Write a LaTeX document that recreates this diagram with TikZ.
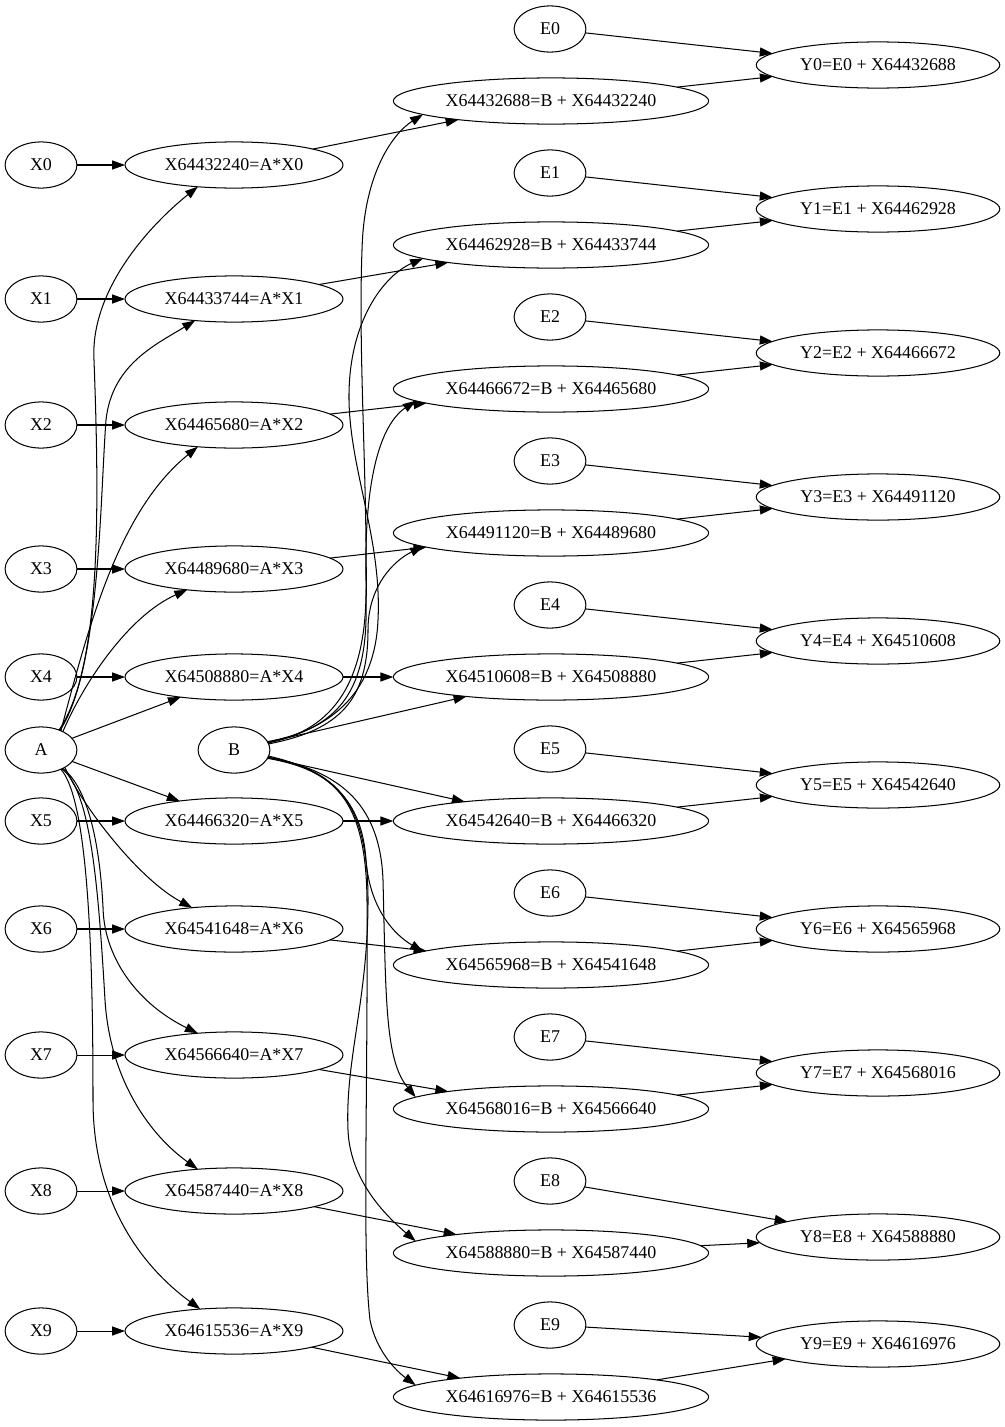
\documentclass[tikz,border=0pt]{standalone}
\usepackage{fontspec}
\setmainfont{Liberation Serif}
\usetikzlibrary{arrows.meta,shapes.geometric}

\begin{document}
\begin{tikzpicture}[x=0.78pt, y=-0.78pt, >={Triangle[length=10pt,width=7pt]}, line width=0.8pt,
  nd/.style={ellipse, draw, inner sep=0pt, outer sep=0pt, minimum height=36pt, font=\fontsize{14}{16}\selectfont},
  sm/.style={nd, minimum width=56pt}, ml/.style={nd, minimum width=170pt},
  ad/.style={nd, minimum width=246pt}, rs/.style={nd, minimum width=190pt}]
\fill[white] (0,0) rectangle (1005,1427);
\node[sm] (x0) at (41,165) {X0}; \node[ml] (m0) at (234,165) {X64432240=A*X0};
\node[sm] (x1) at (41,299) {X1}; \node[ml] (m1) at (234,299) {X64433744=A*X1};
\node[sm] (x2) at (41,425) {X2}; \node[ml] (m2) at (234,425) {X64465680=A*X2};
\node[sm] (x3) at (41,569) {X3}; \node[ml] (m3) at (234,569) {X64489680=A*X3};
\node[sm] (x4) at (41,677) {X4}; \node[ml] (m4) at (234,677) {X64508880=A*X4};
\node[sm] (x5) at (41,821) {X5}; \node[ml] (m5) at (234,821) {X64466320=A*X5};
\node[sm] (x6) at (41,929) {X6}; \node[ml] (m6) at (234,929) {X64541648=A*X6};
\node[sm] (x7) at (41,1055) {X7}; \node[ml] (m7) at (234,1055) {X64566640=A*X7};
\node[sm] (x8) at (41,1191) {X8}; \node[ml] (m8) at (234,1191) {X64587440=A*X8};
\node[sm] (x9) at (41,1331) {X9}; \node[ml] (m9) at (234,1331) {X64615536=A*X9};
\node[sm] (a) at (41,750) {A}; \node[sm] (b) at (234,750) {B};
\node[sm] (e0) at (550,29) {E0}; \node[ad] (s0) at (551,101) {X64432688=B + X64432240}; \node[rs] (y0) at (878,65) {Y0=E0 + X64432688};
\node[sm] (e1) at (550,173) {E1}; \node[ad] (s1) at (551,245) {X64462928=B + X64433744}; \node[rs] (y1) at (878,209) {Y1=E1 + X64462928};
\node[sm] (e2) at (550,317) {E2}; \node[ad] (s2) at (551,389) {X64466672=B + X64465680}; \node[rs] (y2) at (878,353) {Y2=E2 + X64466672};
\node[sm] (e3) at (550,461) {E3}; \node[ad] (s3) at (551,533) {X64491120=B + X64489680}; \node[rs] (y3) at (878,497) {Y3=E3 + X64491120};
\node[sm] (e4) at (550,605) {E4}; \node[ad] (s4) at (551,677) {X64510608=B + X64508880}; \node[rs] (y4) at (878,641) {Y4=E4 + X64510608};
\node[sm] (e5) at (550,749) {E5}; \node[ad] (s5) at (551,821) {X64542640=B + X64466320}; \node[rs] (y5) at (878,785) {Y5=E5 + X64542640};
\node[sm] (e6) at (550,893) {E6}; \node[ad] (s6) at (551,965) {X64565968=B + X64541648}; \node[rs] (y6) at (878,929) {Y6=E6 + X64565968};
\node[sm] (e7) at (550,1037) {E7}; \node[ad] (s7) at (551,1109) {X64568016=B + X64566640}; \node[rs] (y7) at (878,1073) {Y7=E7 + X64568016};
\node[sm] (e8) at (550,1181) {E8}; \node[ad] (s8) at (551,1253) {X64588880=B + X64587440}; \node[rs] (y8) at (878,1237) {Y8=E8 + X64588880};
\node[sm] (e9) at (550,1325) {E9}; \node[ad] (s9) at (551,1397) {X64616976=B + X64615536}; \node[rs] (y9) at (878,1344) {Y9=E9 + X64616976};
\draw[->] (x0) -- (m0); \draw[->] (x1) -- (m1); \draw[->] (x2) -- (m2); \draw[->] (x3) -- (m3); \draw[->] (x4) -- (m4);
\draw[->] (x5) -- (m5); \draw[->] (x6) -- (m6); \draw[->] (x7) -- (m7); \draw[->] (x8) -- (m8); \draw[->] (x9) -- (m9);
\draw[->] (m0) -- (s0); \draw[->] (m1) -- (s1); \draw[->] (m2) -- (s2); \draw[->] (m3) -- (s3); \draw[->] (m4) -- (s4);
\draw[->] (m5) -- (s5); \draw[->] (m6) -- (s6); \draw[->] (m7) -- (s7); \draw[->] (m8) -- (s8); \draw[->] (m9) -- (s9);
\draw[->] (e0) -- (y0); \draw[->] (e1) -- (y1); \draw[->] (e2) -- (y2); \draw[->] (e3) -- (y3); \draw[->] (e4) -- (y4);
\draw[->] (e5) -- (y5); \draw[->] (e6) -- (y6); \draw[->] (e7) -- (y7); \draw[->] (e8) -- (y8); \draw[->] (e9) -- (y9);
\draw[->] (s0) -- (y0); \draw[->] (s1) -- (y1); \draw[->] (s2) -- (y2); \draw[->] (s3) -- (y3); \draw[->] (s4) -- (y4);
\draw[->] (s5) -- (y5); \draw[->] (s6) -- (y6); \draw[->] (s7) -- (y7); \draw[->] (s8) -- (y8); \draw[->] (s9) -- (y9);
\draw[->] (a) -- (m4); \draw[->] (a) -- (m5); \draw[->] (b) -- (s4); \draw[->] (b) -- (s5);
\draw[->] (a.48) .. controls (100,670) and (100,520) .. (94,360) .. controls (90,290) and (150,225) .. (m0.211);
\draw[->] (a.46) .. controls (100,670) and (100,500) .. (106,420) .. controls (112,365) and (155,345) .. (m1.209);
\draw[->] (a.44) .. controls (90,620) and (120,510) .. (m2.211);
\draw[->] (a.40) .. controls (85,680) and (130,615) .. (m3.204);
\draw[->] (a.-36) .. controls (85,810) and (140,880) .. (m6.153);
\draw[->] (a.-40) .. controls (90,790) and (100,850) .. (103,907) .. controls (104,960) and (140,1005) .. (m7.149);
\draw[->] (a.-42) .. controls (90,790) and (98,880) .. (105,1000) .. controls (110,1080) and (150,1135) .. (m8.149);
\draw[->] (a.-44) .. controls (88,800) and (93,950) .. (93,1100) .. controls (93,1200) and (140,1265) .. (m9.147);
\draw[->] (b.14) .. controls (330,730) and (364,700) .. (366,620) .. controls (368,480) and (358,360) .. (362,250) .. controls (364,170) and (395,132) .. (s0.186);
\draw[->] (b.12) .. controls (335,728) and (375,690) .. (378,620) .. controls (382,540) and (350,470) .. (349,400) .. controls (348,320) and (385,275) .. (s1.186);
\draw[->] (b.12) .. controls (335,730) and (368,680) .. (366,580) .. controls (364,480) and (380,425) .. (s2.185);
\draw[->] (b.10) .. controls (340,730) and (368,700) .. (368,630) .. controls (368,585) and (395,560) .. (s3.186);
\draw[->] (b.-10) .. controls (330,770) and (362,800) .. (366,860) .. controls (370,910) and (395,935) .. (s6.174);
\draw[->] (b.-12) .. controls (335,770) and (380,800) .. (383,880) .. controls (386,1000) and (385,1060) .. (s7.175);
\draw[->] (b.-12) .. controls (335,770) and (368,800) .. (368,900) .. controls (368,1000) and (345,1060) .. (348,1130) .. controls (350,1180) and (385,1215) .. (s8.175);
\draw[->] (b.-14) .. controls (335,770) and (366,800) .. (367,900) .. controls (368,1100) and (362,1250) .. (370,1320) .. controls (376,1350) and (395,1370) .. (s9.175);
\end{tikzpicture}
\end{document}
